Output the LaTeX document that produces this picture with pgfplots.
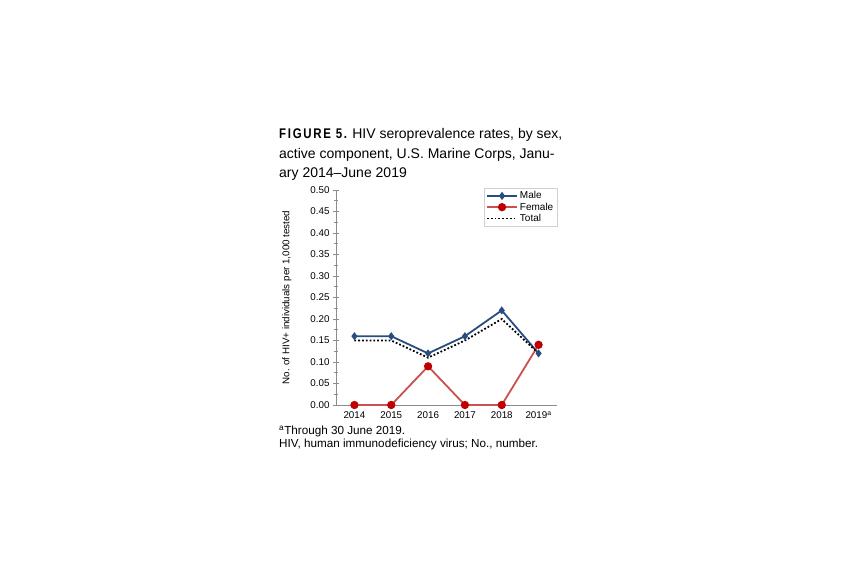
\documentclass[border=0pt]{standalone}
\usepackage{pgfplots}
\pgfplotsset{compat=1.18}
\usepackage{fontspec}
\setmainfont{Liberation Sans}
\newfontfamily\figfont[FakeStretch=0.82,LetterSpace=12]{Liberation Sans Bold}

\definecolor{maleblue}{HTML}{2A4D80}
\definecolor{femline}{HTML}{C9514F}
\definecolor{femmark}{HTML}{C00000}
\definecolor{axgray}{HTML}{8C8C8C}

\begin{document}
\begin{tikzpicture}[x=1pt,y=1pt]
\fill[white] (0,0) rectangle (850,585);
% title
\node[anchor=base west,inner sep=0pt,font=\fontsize{14}{19.5}\selectfont] at (279,446)
  {{\figfont FIGURE 5.} HIV seroprevalence rates, by sex,};
\node[anchor=base west,inner sep=0pt,font=\fontsize{14}{19.5}\selectfont] at (279,426.5)
  {active component, U.S. Marine Corps, Janu-};
\node[anchor=base west,inner sep=0pt,font=\fontsize{14}{19.5}\selectfont] at (279,407)
  {ary 2014--June 2019};
\begin{axis}[
    at={(336pt,180pt)}, anchor=south west,
    scale only axis, width=221pt, height=215pt,
    xmin=-0.5, xmax=5.5, ymin=0, ymax=0.5,
    axis x line=bottom, axis y line=left,
    axis line style={-, draw=axgray, line width=0.8pt},
    xtick={0,...,5},
    xticklabels={2014,2015,2016,2017,2018,2019\textsuperscript{a}},
    xtick style={draw=none},
    ytick={0,0.05,...,0.5},
    minor y tick num=1,
    tick align=center,
    major tick length=6pt, minor tick length=4pt,
    y tick style={draw=axgray, line width=0.8pt},
    /pgf/number format/assume math mode=true,
    yticklabel style={/pgf/number format/fixed,/pgf/number format/fixed zerofill,/pgf/number format/precision=2},
    ticklabel style={font=\fontsize{9.8}{11}\selectfont},
    ylabel={No. of HIV+ individuals per 1,000 tested},
    ylabel style={at={(axis description cs:-0.222,0.5)}, anchor=center, font=\fontsize{9.8}{11}\selectfont},
    clip=false,
    legend style={at={(1,1.01)}, anchor=north east, draw=black!18,
        font=\fontsize{10}{11}\selectfont, inner sep=1.5pt,
        row sep=-1.5pt, cells={anchor=west}},
    legend image code/.code={%
        \draw[mark repeat=2,mark phase=2,#1]
        plot coordinates {(0pt,0pt) (15pt,0pt) (30pt,0pt)};},
]
\addplot[maleblue, line width=1.8pt, mark=diamond*, mark size=2.6pt, mark options={solid,fill=maleblue}]
  coordinates {(0,0.16) (1,0.16) (2,0.12) (3,0.16) (4,0.22) (5,0.12)};
\addlegendentry{Male}
\addplot[femline, line width=1.8pt, mark=*, mark size=3.2pt, mark options={solid,fill=femmark,draw=femmark}]
  coordinates {(0,0) (1,0) (2,0.09) (3,0) (4,0) (5,0.14)};
\addlegendentry{Female}
\addplot[black, line width=1.8pt, dotted]
  coordinates {(0,0.15) (1,0.15) (2,0.11) (3,0.15) (4,0.20) (5,0.12)};
\addlegendentry{Total}
\end{axis}
% footnotes
\node[anchor=base west,inner sep=0pt,font=\fontsize{11.7}{13}\selectfont] at (279,150)
  {\textsuperscript{a}Through 30 June 2019.};
\node[anchor=base west,inner sep=0pt,font=\fontsize{11.7}{13}\selectfont] at (279,137)
  {HIV, human immunodeficiency virus; No., number.};
\end{tikzpicture}
\end{document}
